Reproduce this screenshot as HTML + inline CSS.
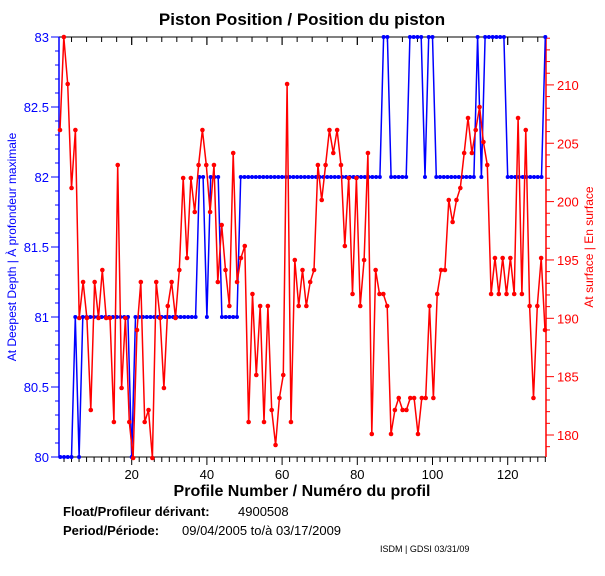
<!DOCTYPE html>
<html><head><meta charset="utf-8"><style>
body{margin:0;background:#fff;}
svg{display:block;font-family:"Liberation Sans",sans-serif;}
</style></head><body>
<svg id="s" width="605" height="576" xmlns="http://www.w3.org/2000/svg">
<rect width="605" height="576" fill="#fff"/>
<text x="302" y="25" font-size="17" font-weight="bold" text-anchor="middle">Piston Position / Position du piston</text>
<text x="302" y="496" font-size="16" font-weight="bold" text-anchor="middle">Profile Number / Numéro du profil</text>
<text x="63" y="516" font-size="13" font-weight="bold">Float/Profileur dérivant:</text>
<text x="238" y="516" font-size="13">4900508</text>
<text x="63" y="535" font-size="13" font-weight="bold">Period/Période:</text>
<text x="182" y="535" font-size="13">09/04/2005  to/à  03/17/2009</text>
<text x="380" y="552" font-size="9">ISDM | GDSI 03/31/09</text>
<text transform="translate(16,247) rotate(-90)" font-size="12" fill="#0000ff" text-anchor="middle">At Deepest Depth | À profondeur maximale</text>
<text transform="translate(593,247) rotate(-90)" font-size="12" fill="#ff0000" text-anchor="middle">At surface | En surface</text>
<g id="g"></g>
</svg>
<script>
var g=document.getElementById('g'),h='';
var L=59,R=546,T=37,B=457;
function X(n){return 56.5+3.76*n;}
function YL(v){return 457-(v-80)*140;}
function YR(v){return 435-(v-180)*11.67;}
h+='<line x1="'+L+'" y1="'+T+'" x2="'+R+'" y2="'+T+'" stroke="#000"/>';
h+='<line x1="'+L+'" y1="'+B+'" x2="'+R+'" y2="'+B+'" stroke="#000"/>';
h+='<line x1="'+L+'" y1="'+T+'" x2="'+L+'" y2="'+B+'" stroke="#0000ff" stroke-width="1.5"/>';
h+='<line x1="'+R+'" y1="'+T+'" x2="'+R+'" y2="'+B+'" stroke="#ff0000" stroke-width="1.5"/>';
for(var n=2;n<=130;n+=2){var x=X(n),big=n%20==0;
 h+='<line x1="'+x+'" y1="'+B+'" x2="'+x+'" y2="'+(B+(big?8:5))+'" stroke="#000"/>';
 if(big&&n<=120)h+='<text x="'+x+'" y="'+(B+22)+'" font-size="13" text-anchor="middle">'+n+'</text>';}
for(var n=4;n<=130;n+=4){var x=X(n),big=n%20==0;
 h+='<line x1="'+x+'" y1="'+T+'" x2="'+x+'" y2="'+(T+(big?8:5))+'" stroke="#000"/>';}
for(var n=20;n<=120;n+=20){var x=X(n);h+='<line x1="'+x+'" y1="'+T+'" x2="'+x+'" y2="'+(T+8)+'" stroke="#000"/>';}
for(var v=80;v<=83.001;v+=0.1){var y=YL(v),big=Math.abs(v*2-Math.round(v*2))<0.01;
 h+='<line x1="'+L+'" y1="'+y+'" x2="'+(L-(big?8:4))+'" y2="'+y+'" stroke="#0000ff"/>';
 if(big){var t=(Math.round(v*2)/2).toString();h+='<text x="'+(L-10)+'" y="'+(y+5)+'" font-size="13" fill="#0000ff" text-anchor="end">'+t+'</text>';}}
for(var v=179;v<=214;v+=1.0){var y=YR(v);if(y<T||y>B)continue;var big=v%5==0;
 h+='<line x1="'+R+'" y1="'+y+'" x2="'+(R+(big?8:4))+'" y2="'+y+'" stroke="#ff0000"/>';
 if(big)h+='<text x="'+(R+11)+'" y="'+(y+5)+'" font-size="13" fill="#ff0000">'+v+'</text>';}
var b=[];
function set(a,c,v){for(var i=a;i<=c;i++)b[i]=v;}
set(1,130,82);set(1,4,80);b[5]=81;b[6]=80;set(7,37,81);b[20]=80;b[21]=81;
set(38,39,82);set(40,40,81);set(41,43,82);set(44,48,81);set(49,86,82);
set(87,88,83);set(89,93,82);set(94,97,83);b[98]=82;set(99,100,83);set(101,111,82);
b[112]=83;b[113]=82;set(114,119,83);set(120,129,82);b[130]=83;
var p='';for(var i=1;i<=130;i++)p+=(i==1?'M':'L')+X(i).toFixed(1)+','+YL(b[i]).toFixed(1);
h+='<path d="'+p+'" fill="none" stroke="#0000ff" stroke-width="1.5"/>';
for(var i=1;i<=130;i++)h+='<circle cx="'+X(i)+'" cy="'+YL(b[i])+'" r="2" fill="#0000ff"/>';
var r=[130,37,84,188,130,318,282,318,410,282,318,270,318,318,422,165,388,318,422,458,330,282,422,410,458,282,318,388,306,282,318,270,178,258,178,212,165,130,165,212,165,282,225,270,306,153,282,258,246,422,294,375,306,422,306,410,445,398,375,84,422,260,306,270,306,282,270,165,200,165,130,153,130,165,246,178,294,178,306,260,153,434,270,294,294,306,434,410,398,410,410,398,398,434,398,398,306,398,294,270,270,200,222,200,188,153,118,153,130,107,142,165,294,258,294,258,294,258,294,118,294,130,306,398,306,258,330];
var q='',N=r.length,xe=545;
for(var i=0;i<N;i++){var x=60+i*(xe-60)/(N-1);q+=(i?'L':'M')+x.toFixed(1)+','+r[i];}
h+='<path d="'+q+'" fill="none" stroke="#ff0000" stroke-width="1.5"/>';
for(var i=0;i<N;i++){var x=60+i*(xe-60)/(N-1);h+='<circle cx="'+x+'" cy="'+r[i]+'" r="2.3" fill="#ff0000"/>';}
g.innerHTML=h;
</script>
</body></html>
